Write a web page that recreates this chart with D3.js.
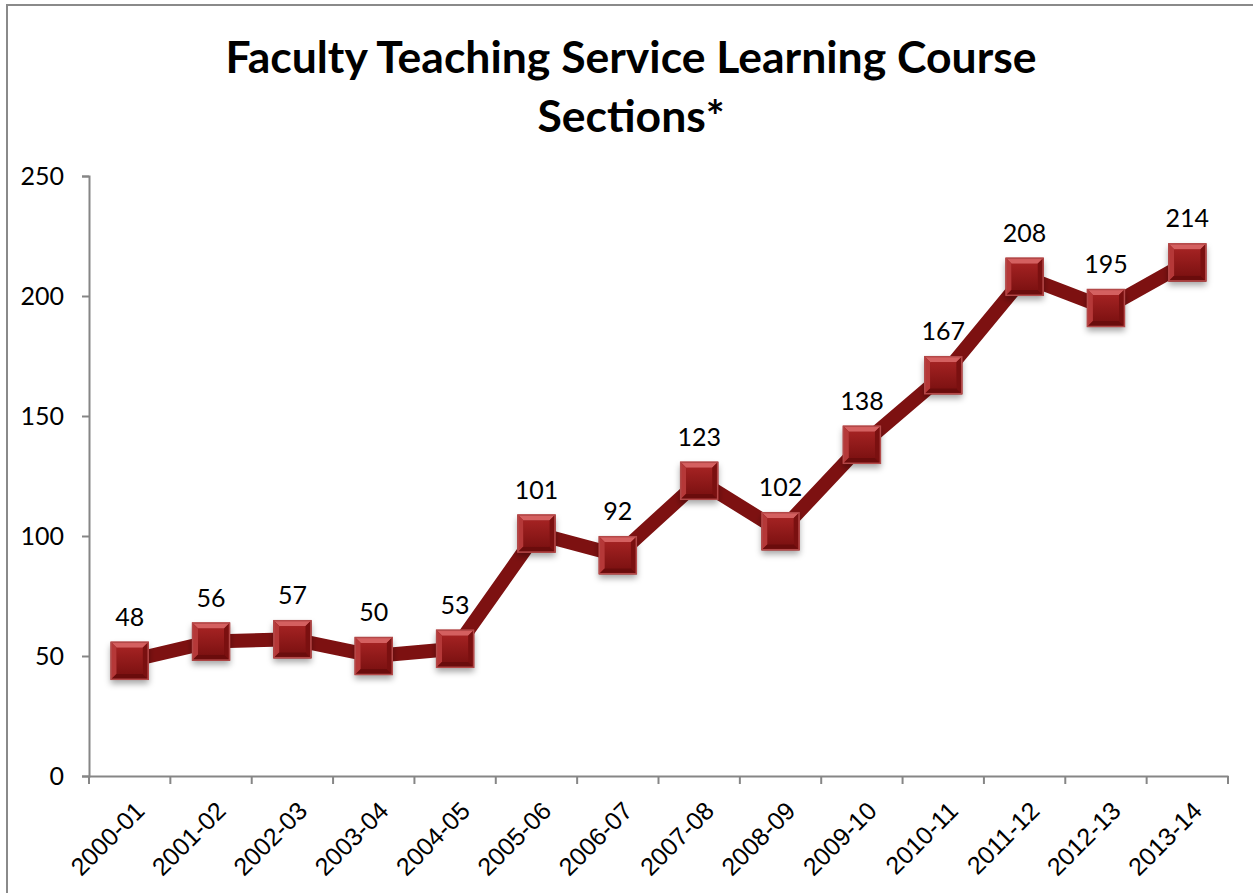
<!DOCTYPE html>
<html>
<head>
<meta charset="utf-8">
<script src="https://cdn.jsdelivr.net/npm/d3@7"></script>
<style>
  body { margin: 0; background: #fff; }
  svg { display: block; font-family: Lato, "Open Sans", sans-serif; }
</style>
</head>
<body>
<svg></svg>
<script>
const years = ["2000-01","2001-02","2002-03","2003-04","2004-05","2005-06","2006-07",
               "2007-08","2008-09","2009-10","2010-11","2011-12","2012-13","2013-14"];
const sections = [48, 56, 57, 50, 53, 101, 92, 123, 102, 138, 167, 208, 195, 214];
const yTicks = [0, 50, 100, 150, 200, 250];
const titleLines = ["Faculty Teaching Service Learning Course", "Sections*"];

const W = 1253, H = 893;
const plotLeft = 89, plotRight = 1228, plotTop = 176, plotBottom = 776;
const labelSize = 25;

const svg = d3.select("svg").attr("width", W).attr("height", H);

// chart border (runs off the right and bottom of the picture)
svg.append("rect")
    .attr("x", 7).attr("y", 5)
    .attr("width", W).attr("height", H)
    .attr("fill", "none").attr("stroke", "#8a8a8a").attr("stroke-width", 2);

const defs = svg.append("defs");
const shadow = defs.append("filter").attr("id", "shadow")
    .attr("x", "-50%").attr("y", "-50%").attr("width", "200%").attr("height", "200%");
shadow.append("feDropShadow").attr("dx", 0).attr("dy", 4).attr("stdDeviation", 3)
    .attr("flood-color", "#000").attr("flood-opacity", 0.35);

const faceGrad = defs.append("linearGradient").attr("id", "face")
    .attr("x1", 0).attr("y1", 0).attr("x2", 0).attr("y2", 1);
faceGrad.append("stop").attr("offset", "0%").attr("stop-color", "#a32222");
faceGrad.append("stop").attr("offset", "100%").attr("stop-color", "#7e1212");

// title
const title = svg.append("g").attr("font-weight", "bold").attr("fill", "#000");
titleLines.forEach(function(t, i) {
  title.append("text")
      .attr("x", 631).attr("y", 73 + i * 59)
      .attr("text-anchor", "middle")
      .attr("font-size", 44.5)
      .text(t);
});

const x = d3.scaleBand().domain(years).range([plotLeft, plotRight]);
const y = d3.scaleLinear().domain([0, 250]).range([plotBottom, plotTop]);

const axisColor = "#868686";

const yAxis = svg.append("g")
    .attr("transform", `translate(${plotLeft},0)`)
    .call(d3.axisLeft(y).tickValues(yTicks).tickSize(7).tickPadding(18));
yAxis.select(".domain").attr("stroke", axisColor).attr("stroke-width", 2);
yAxis.selectAll(".tick line").attr("stroke", axisColor).attr("stroke-width", 2);
yAxis.selectAll(".tick text").attr("font-size", labelSize).attr("fill", "#000")
    .attr("font-family", "Lato, sans-serif");

const xAxis = svg.append("g")
    .attr("transform", `translate(0,${plotBottom})`)
    .call(d3.axisBottom(x).tickSize(0).tickFormat(""));
xAxis.select(".domain").attr("stroke", axisColor).attr("stroke-width", 2);

// ticks sit on the band boundaries
const edges = years.map(function(d) { return x(d); }).concat([x(years[years.length - 1]) + x.bandwidth()]);
xAxis.selectAll(".edge").data(edges).enter().append("line")
    .attr("x1", function(d) { return d; }).attr("x2", function(d) { return d; })
    .attr("y1", 0).attr("y2", 8)
    .attr("stroke", axisColor).attr("stroke-width", 2);

xAxis.selectAll(".lbl").data(years).enter().append("text")
    .attr("transform", function(d) {
      return `translate(${x(d) + x.bandwidth() / 2 + 4},24) rotate(-45)`;
    })
    .attr("text-anchor", "end")
    .attr("dy", "0.7em")
    .attr("font-size", labelSize)
    .attr("fill", "#000")
    .text(function(d) { return d; });

const cx = function(i) { return x(years[i]) + x.bandwidth() / 2; };

// line
const line = d3.line()
    .x(function(d, i) { return cx(i); })
    .y(function(d) { return y(d); });

svg.append("path")
    .datum(sections)
    .attr("d", line)
    .attr("fill", "none")
    .attr("stroke", "#7d1111")
    .attr("stroke-width", 14)
    .attr("stroke-linejoin", "round");

// bevelled square markers
const s = 38, b = 6;
const markers = svg.selectAll(".marker").data(sections).enter().append("g")
    .attr("class", "marker")
    .attr("transform", function(d, i) { return `translate(${cx(i)},${y(d)})`; });

markers.append("rect")
    .attr("x", -s / 2).attr("y", -s / 2).attr("width", s).attr("height", s)
    .attr("fill", "#8a1818").attr("filter", "url(#shadow)");

const h = s / 2, k = h - b;
const bevel = [
  { pts: [[-h,-h],[h,-h],[k,-k],[-k,-k]], fill: "#d46060" }, // top
  { pts: [[-h,-h],[-k,-k],[-k,k],[-h,h]], fill: "#b53838" }, // left
  { pts: [[h,-h],[h,h],[k,k],[k,-k]], fill: "#7a1010" },     // right
  { pts: [[-h,h],[-k,k],[k,k],[h,h]], fill: "#6a0c0c" }      // bottom
];
bevel.forEach(function(f) {
  markers.append("polygon")
      .attr("points", f.pts.map(function(p) { return p.join(","); }).join(" "))
      .attr("fill", f.fill);
});
markers.append("rect")
    .attr("x", -k).attr("y", -k).attr("width", 2 * k).attr("height", 2 * k)
    .attr("fill", "url(#face)");
markers.append("rect")
    .attr("x", -h + 0.5).attr("y", -h + 0.5).attr("width", s - 1).attr("height", s - 1)
    .attr("fill", "none").attr("stroke", "#b34848").attr("stroke-width", 1.5);

// data labels
svg.selectAll(".val").data(sections).enter().append("text")
    .attr("x", function(d, i) { return cx(i); })
    .attr("y", function(d) { return y(d) - 35; })
    .attr("text-anchor", "middle")
    .attr("font-size", labelSize)
    .attr("fill", "#000")
    .text(function(d) { return d; });
</script>
</body>
</html>
